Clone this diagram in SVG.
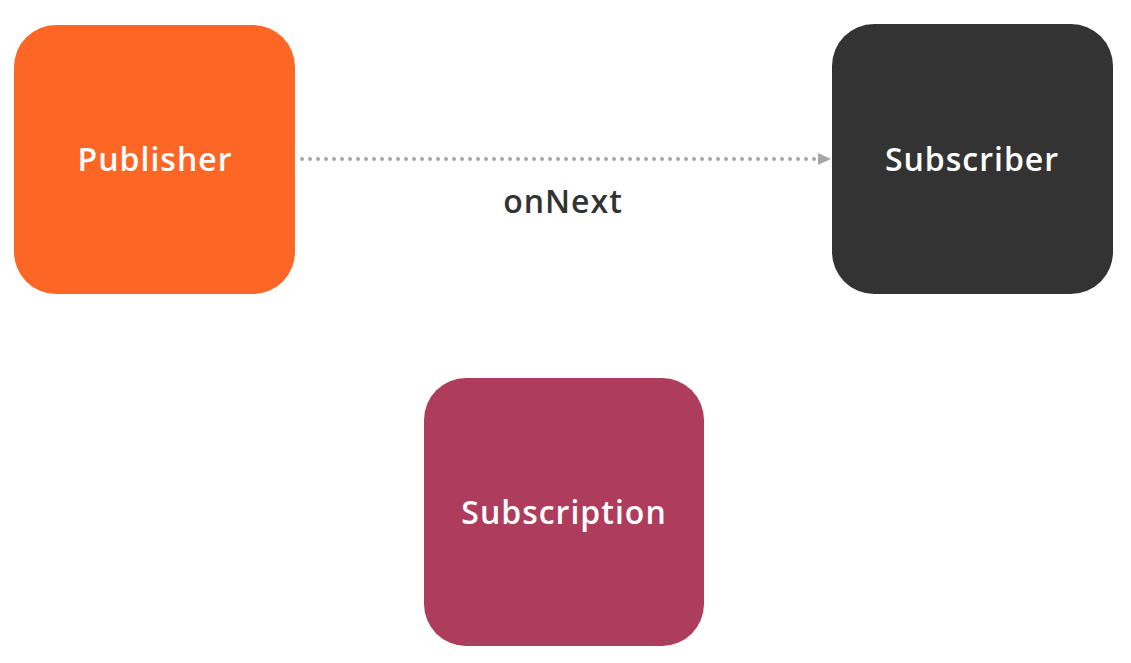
<svg xmlns="http://www.w3.org/2000/svg" width="1131" height="663" viewBox="0 0 1131 663">
<style>
.box{stroke:none}
.lbl{font-family:"Open Sans","Liberation Sans",sans-serif;font-weight:600;font-size:32px;letter-spacing:1px;fill:#ffffff;text-anchor:middle;dominant-baseline:central}
.conn{stroke:#a6a6a6;stroke-width:4;stroke-linecap:round;stroke-dasharray:0 8;fill:none}
.clbl{font-family:"Open Sans","Liberation Sans",sans-serif;font-weight:600;font-size:32px;letter-spacing:1px;fill:#333333;text-anchor:middle;dominant-baseline:central}
</style>
<rect width="1131" height="663" fill="#ffffff"/>
<g id="connectors">
<path class="conn" d="M302,159 L818,159"/>
<path d="M818,153 L831,159 L818,165 Z" fill="#a6a6a6"/>
<text class="clbl" x="563" y="200">onNext</text>
</g>
<g id="publisher">
<rect class="box" x="14" y="25" width="281" height="269" rx="42" fill="#fe6625"/>
<text class="lbl" x="155" y="158">Publisher</text>
</g>
<g id="subscriber">
<rect class="box" x="832" y="24" width="281" height="270" rx="42" fill="#333333"/>
<text class="lbl" x="972" y="158">Subscriber</text>
</g>
<g id="subscription">
<rect class="box" x="424" y="378" width="280" height="268" rx="42" fill="#ae3c5c"/>
<text class="lbl" x="564" y="511">Subscription</text>
</g>
</svg>
